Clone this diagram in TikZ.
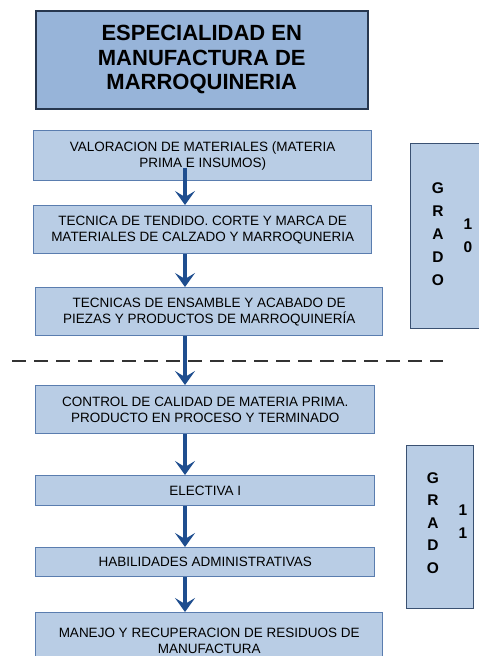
\documentclass[tikz,border=0pt]{standalone}
\usepackage{fontspec}
\setmainfont{Liberation Sans}
\usetikzlibrary{positioning,calc,arrows.meta}
\definecolor{boxfill}{HTML}{B9CDE5}
\definecolor{headfill}{HTML}{97B4D9}
\definecolor{boxline}{HTML}{5A7DAF}
\definecolor{headline}{HTML}{27374F}
\definecolor{arrowblue}{HTML}{1F4E8F}
\tikzset{box/.style={draw=boxline,fill=boxfill,line width=1.3pt,align=center,anchor=north west,inner sep=0pt,font=\fontsize{13.5}{16}\selectfont},
  headbox/.style={box,draw=headline,fill=headfill,line width=1.6pt,font=\bfseries\fontsize{22}{24.5}\selectfont},
  gradebox/.style={draw=black!35!boxline,fill=boxfill,line width=1pt,anchor=north west,inner sep=0pt},
  gradetxt/.style={align=center,inner sep=0pt,font=\bfseries\fontsize{15.5}{23}\selectfont},
  flow/.style={draw=arrowblue,line width=4pt,-{Stealth[length=14pt,width=20pt,inset=6pt]}},
  divider/.style={draw=black!80,line width=2.5pt,dash pattern=on 14pt off 8pt}}

\begin{document}
\begin{tikzpicture}[x=1pt,y=-1pt]
  \useasboundingbox (0,0) rectangle (479,656);

  % title
  \node (head) [headbox,minimum width=332pt,minimum height=98pt] at (35,10) {ESPECIALIDAD EN\\MANUFACTURA DE\\MARROQUINERIA};

  % grado 10 courses
  \node (b1) [box,minimum width=338pt,minimum height=50pt] at (33,130) {VALORACION DE MATERIALES (MATERIA\\PRIMA E INSUMOS)};
  \node (b2) [box,minimum width=338pt,minimum height=48pt] at (33,205) {TECNICA DE TENDIDO. CORTE Y MARCA DE\\MATERIALES DE CALZADO Y MARROQUNERIA};
  \node (b3) [box,minimum width=347pt,minimum height=48pt] at (35,287) {TECNICAS DE ENSAMBLE Y ACABADO DE\\PIEZAS Y PRODUCTOS DE MARROQUINERÍA};

  % grado 11 courses
  \node (b4) [box,minimum width=339pt,minimum height=48pt] at (35,385) {CONTROL DE CALIDAD DE MATERIA PRIMA.\\PRODUCTO EN PROCESO Y TERMINADO};
  \node (b5) [box,minimum width=339pt,minimum height=30pt] at (35,475) {ELECTIVA I};
  \node (b6) [box,minimum width=339pt,minimum height=29pt] at (35,547) {HABILIDADES ADMINISTRATIVAS};
  \node (b7) [box,minimum width=347pt,minimum height=56pt] at (35,612) {MANEJO Y RECUPERACION DE RESIDUOS DE\\MANUFACTURA};

  % grade boxes
  \node (g10) [gradebox,minimum width=85pt,minimum height=185pt] at (410,143) {};
  \node (g10l) [gradetxt] at (438,234) {G\\R\\A\\D\\O};
  \node (g10n) [gradetxt] at (468,235.5) {1\\0};
  \node (g11) [gradebox,minimum width=67pt,minimum height=163pt] at (406,445) {};
  \node (g11l) [gradetxt,font=\bfseries\fontsize{15.5}{22.5}\selectfont] at (433,523) {G\\R\\A\\D\\O};
  \node (g11n) [gradetxt] at (463,521.5) {1\\1};

  % divider
  \coordinate (dl) at (12,361);
  \coordinate (dr) at (443,361);
  \draw[divider] (dl) -- (dr);

  % arrows
  \coordinate (ax) at (185,0);
  \draw[flow] ([yshift=13pt]b1.south -| ax) -- (b2.north -| ax);
  \foreach \a/\b in {b2/b3, b3/b4, b4/b5, b5/b6, b6/b7}
    \draw[flow] (\a.south -| ax) -- (\b.north -| ax);

\end{tikzpicture}
\end{document}
